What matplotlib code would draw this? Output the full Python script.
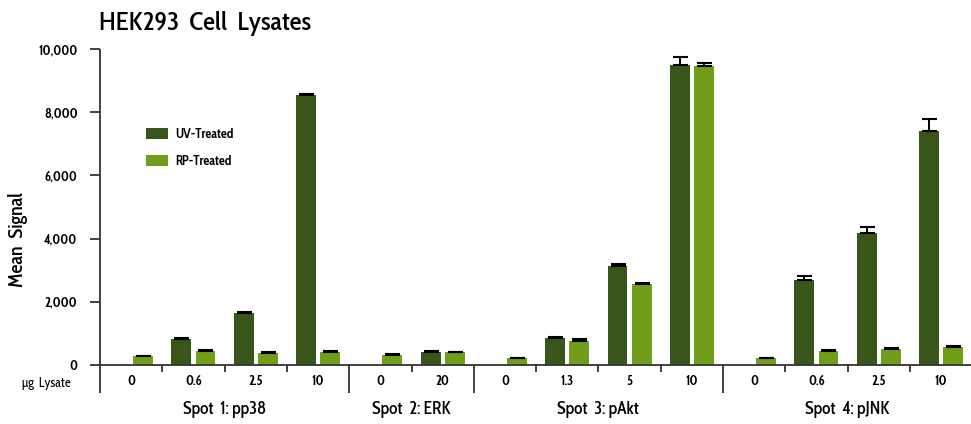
import numpy as np
import matplotlib
matplotlib.use("Agg")
import matplotlib.pyplot as plt
from matplotlib.patches import Patch
from matplotlib.ticker import FuncFormatter, FixedLocator
import matplotlib.transforms as mtransforms

# ---- data ---------------------------------------------------------------
groups = ["Spot  1: pp38", "Spot  2: ERK", "Spot  3: pAkt", "Spot  4: pJNK"]
group_sizes = [4, 2, 4, 4]
lysate_ug = ["0", "0.6", "2.5", "10",
             "0", "20",
             "0", "1.3", "5", "10",
             "0", "0.6", "2.5", "10"]
uv_mean = [np.nan, 830, 1640, 8560,
           np.nan, 420,
           np.nan, 860, 3120, 9480,
           np.nan, 2680, 4170, 7400]
uv_err = [0, 20, 30, 30,
          0, 30,
          0, 15, 80, 280,
          0, 150, 200, 380]
rp_mean = [270, 450, 390, 420,
           330, 400,
           210, 760, 2560, 9470,
           210, 450, 520, 580]
rp_err = [10, 15, 10, 30,
          10, 10,
          10, 50, 40, 100,
          10, 10, 10, 10]
series_labels = ["UV-Treated", "RP-Treated"]

# ---- style --------------------------------------------------------------
UV_COLOR = "#38561a"
RP_COLOR = "#709e1b"
AXIS_COLOR = "#333333"
FONT = ["Cabin Condensed", "IBM Plex Sans Condensed", "DejaVu Sans"]
plt.rcParams["font.family"] = FONT

W, H = 971, 424
fig = plt.figure(figsize=(W / 100, H / 100), dpi=100)

# axes box in pixels: left edge 100, baseline 365, top 49
ax = fig.add_axes([100 / W, (H - 365) / H, 871 / W, 316 / H])

n = len(lysate_ug)
x = np.arange(n)
bw = 0.32
off = 0.193

ax.bar(x - off, uv_mean, width=bw, color=UV_COLOR, zorder=2, label=series_labels[0])
ax.bar(x + off, rp_mean, width=bw, color=RP_COLOR, zorder=2, label=series_labels[1])

uv_m = np.array(uv_mean, dtype=float)
rp_m = np.array(rp_mean, dtype=float)
ax.errorbar(x - off, uv_m, yerr=[np.zeros(n), uv_err], fmt="none",
            ecolor="black", elinewidth=1.4, capsize=5.4, capthick=1.5, zorder=3)
ax.errorbar(x + off, rp_m, yerr=[np.zeros(n), rp_err], fmt="none",
            ecolor="black", elinewidth=1.4, capsize=5.4, capthick=1.5, zorder=3)

ax.set_xlim(-0.5, -0.5 + 871 / 62.3)
ax.set_ylim(0, 10000)

# spines
for s in ("top", "right", "left"):
    ax.spines[s].set_visible(False)
ax.spines["bottom"].set_color(AXIS_COLOR)
ax.spines["bottom"].set_linewidth(1.3)

blend = mtransforms.blended_transform_factory(ax.transData, ax.transAxes)
drop_long = -28 / 316

# left axis line extending below the baseline
ax.plot([0, 0], [drop_long, 1], transform=ax.transAxes, color=AXIS_COLOR,
        lw=1.3, clip_on=False, solid_capstyle="butt")

# y ticks
ax.set_yticks(np.arange(0, 10001, 2000))
ax.yaxis.set_major_formatter(FuncFormatter(lambda v, p: f"{int(v):,}"))
ax.tick_params(axis="y", length=7.2, width=1.3, color=AXIS_COLOR, pad=9,
               labelsize=9.5)
for t in ax.get_yticklabels():
    t.set_fontweight("bold")

# x ticks: category labels, no marks
ax.set_xticks(x)
ax.set_xticklabels(lysate_ug)
ax.tick_params(axis="x", which="major", length=0, pad=7, labelsize=9.5)
for t in ax.get_xticklabels():
    t.set_fontweight("bold")

# boundaries between categories: short within groups, long between groups
edges = np.cumsum(group_sizes)[:-1] - 0.5
inner = [b + 0.5 for b in range(n - 1) if (b + 0.5) not in edges]
ax.xaxis.set_minor_locator(FixedLocator(inner))
ax.tick_params(axis="x", which="minor", length=5, width=1.3, color=AXIS_COLOR)
for e in edges:
    ax.plot([e, e], [drop_long, 0], transform=blend, color=AXIS_COLOR,
            lw=1.3, clip_on=False, solid_capstyle="butt")

# group names
starts = np.concatenate([[0], np.cumsum(group_sizes)[:-1]])
for g, s0, sz in zip(groups, starts, group_sizes):
    ax.text(s0 + (sz - 1) / 2, -(409 - 365) / 316, g, transform=blend,
            ha="center", va="center", fontsize=12.5, fontweight="medium")

# legend
handles = [Patch(facecolor=UV_COLOR, edgecolor="none"),
           Patch(facecolor=RP_COLOR, edgecolor="none")]
leg = ax.legend(handles, series_labels, loc="upper left",
                bbox_to_anchor=(146 / W, 1 - 128 / H), bbox_transform=fig.transFigure,
                frameon=False, fontsize=9.5, handlelength=1.65, handleheight=0.85,
                handletextpad=0.6, labelspacing=1.05, borderpad=0, borderaxespad=0)
for t in leg.get_texts():
    t.set_fontweight("bold")

# text outside the axes
fig.text(99 / W, 1 - 23 / H, "HEK293  Cell  Lysates", ha="left", va="center",
         fontsize=19, fontweight="medium")
fig.text(18 / W, 1 - 240 / H, "Mean  Signal", rotation=90, ha="center",
         va="center", fontsize=14.5, fontweight="medium")
fig.text(46 / W, 1 - 383 / H, "µg  Lysate", ha="center", va="center",
         fontsize=9.5)

fig.savefig("out.png", dpi=100)
